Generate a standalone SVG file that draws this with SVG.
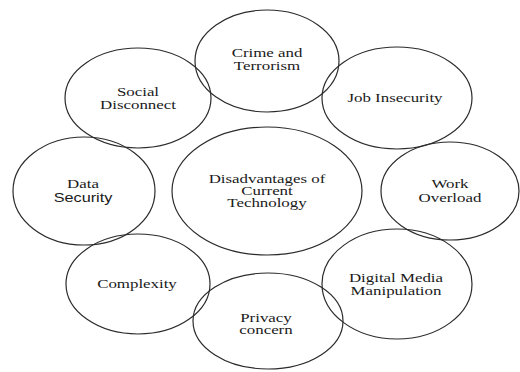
<svg xmlns="http://www.w3.org/2000/svg" width="520" height="372" viewBox="0 0 520 372">
<style>
.n{fill:none;stroke:#2b2b2b;stroke-width:1.2}
.t{font-family:"Liberation Serif","Times New Roman",serif;font-size:13.5px;fill:#1a1a1a;text-anchor:middle}
.s{font-family:"Liberation Sans",Arial,sans-serif;font-size:13px;fill:#1a1a1a;text-anchor:middle}
</style>
<rect width="520" height="372" fill="#ffffff"/>
<g id="connectors"></g>
<g id="node-crime">
<ellipse class="n" cx="267" cy="61" rx="72" ry="51"/>
<text class="t" transform="scale(1.25,1)" x="213.6" y="57">Crime and</text>
<text class="t" transform="scale(1.25,1)" x="213.6" y="70">Terrorism</text>
</g>
<g id="node-social">
<ellipse class="n" cx="138" cy="98" rx="73" ry="50"/>
<text class="t" transform="scale(1.25,1)" x="110.4" y="96">Social</text>
<text class="t" transform="scale(1.25,1)" x="110.4" y="109">Disconnect</text>
</g>
<g id="node-job">
<ellipse class="n" cx="397" cy="98" rx="75" ry="51"/>
<text class="t" transform="scale(1.25,1)" x="316" y="102">Job Insecurity</text>
</g>
<g id="node-data">
<ellipse class="n" cx="84" cy="191" rx="71" ry="54"/>
<text class="t" transform="scale(1.25,1)" x="66.4" y="188">Data</text>
<text class="s" transform="scale(1.25,1)" x="66.4" y="202">Security</text>
</g>
<g id="node-center">
<ellipse class="n" cx="267" cy="191" rx="95" ry="64"/>
<text class="t" transform="scale(1.25,1)" x="213.6" y="183">Disadvantages of</text>
<text class="t" transform="scale(1.25,1)" x="213.6" y="195">Current</text>
<text class="t" transform="scale(1.25,1)" x="213.6" y="207">Technology</text>
</g>
<g id="node-work">
<ellipse class="n" cx="450" cy="191" rx="69" ry="49"/>
<text class="t" transform="scale(1.25,1)" x="360" y="188">Work</text>
<text class="t" transform="scale(1.25,1)" x="360" y="202">Overload</text>
</g>
<g id="node-complexity">
<ellipse class="n" cx="138" cy="284" rx="72" ry="50"/>
<text class="t" transform="scale(1.25,1)" x="109.6" y="288">Complexity</text>
</g>
<g id="node-digital">
<ellipse class="n" cx="397" cy="284" rx="75" ry="55"/>
<text class="t" transform="scale(1.25,1)" x="316.8" y="282">Digital Media</text>
<text class="t" transform="scale(1.25,1)" x="316.8" y="295">Manipulation</text>
</g>
<g id="node-privacy">
<ellipse class="n" cx="268" cy="321" rx="75" ry="48"/>
<text class="t" transform="scale(1.25,1)" x="212.8" y="322">Privacy</text>
<text class="t" transform="scale(1.25,1)" x="212.8" y="334">concern</text>
</g>
</svg>
